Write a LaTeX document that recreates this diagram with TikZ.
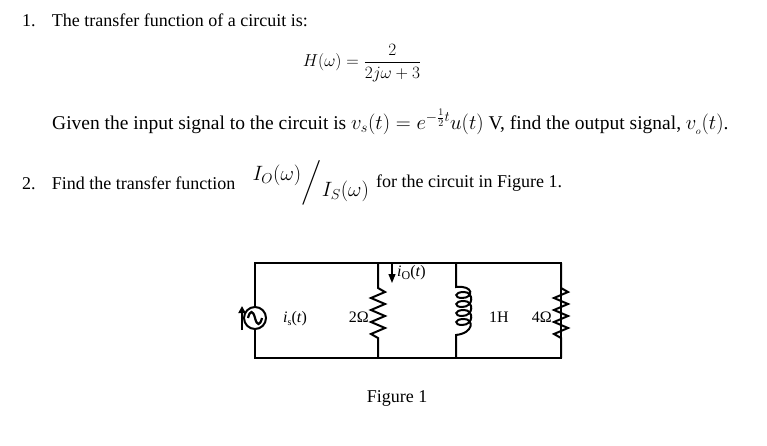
\documentclass[tikz,border=0pt]{standalone}
\usepackage{amsmath}
\usepackage{fontspec}
\setmainfont{Liberation Serif}
\usetikzlibrary{arrows.meta}
\begin{document}
\begin{tikzpicture}[x=1pt,y=-1pt,
  txt/.style={anchor=west,inner sep=0pt,font=\fontsize{18}{20}\selectfont},
  wire/.style={line width=2pt},
  lbl/.style={inner sep=0pt,font=\fontsize{16}{18}\selectfont}]
\useasboundingbox (0,0) rectangle (767,446);
\node[txt] (t1) at (22,20) {1.\hspace{0.9em}The transfer function of a circuit is:};
\node[inner sep=0pt,font=\fontsize{18}{20}\selectfont] (h) at (362,63) {$H(\omega)=\dfrac{2}{2j\omega+3}$};
\node[txt,font=\fontsize{19.5}{22}\selectfont] (t2) at (52,122) {Given the input signal to the circuit is $v_s(t)=e^{-\frac{1}{2}t}u(t)$ V, find the output signal, $v_{_o}(t)$.};
\node[txt] (t3) at (22,183) {2.\hspace{0.9em}Find the transfer function};
\node[inner sep=0pt,font=\fontsize{28}{30}\selectfont] (frac) at (311,183) {$\left.{}^{I_O(\omega)}\middle/{}_{I_S(\omega)}\right.$};
\node[txt] (t4) at (376,183) {for the circuit in Figure 1.};
% circuit
\coordinate (tl) at (255,263); \coordinate (bl) at (255,358);
\coordinate (tr) at (561,263); \coordinate (br) at (561,358);
\coordinate (ta) at (378,263); \coordinate (ba) at (378,358);
\coordinate (tb) at (456,263); \coordinate (bb) at (456,358);
\draw[wire] (tl) -- (tr) -- (br) -- (bl) -- cycle;
\node[circle,draw,line width=2pt,minimum size=22pt,inner sep=0pt,fill=white] (src) at (255,318) {};
\draw[line width=2.2pt] (248,318) .. controls (250,310) and (253,310) .. (255,318) .. controls (257,326) and (260,326) .. (262,318);
\draw[line width=1.8pt,-{Triangle[length=7pt,width=7pt]}] (242,330) -- (242,306);
% 2 ohm
\draw[wire] (ta) -- (378,288) -- (385,292) -- (371,298) -- (385,304) -- (371,310) -- (385,316) -- (371,322) -- (385,328) -- (371,334) -- (378,338) -- (ba);
% 4 ohm
\draw[wire] (tr) -- (561,288) -- (568,292) -- (554,298) -- (568,304) -- (554,310) -- (568,316) -- (554,322) -- (568,328) -- (554,334) -- (561,338) -- (br);
% inductor
\draw[wire] (tb) -- (456,287) .. controls (474,285) and (474,298) .. (462,298)
  .. controls (454,298) and (454,292) .. (464,292) .. controls (474,292) and (474,307) .. (462,307)
  .. controls (454,307) and (454,301) .. (464,301) .. controls (474,301) and (474,316) .. (462,316)
  .. controls (454,316) and (454,310) .. (464,310) .. controls (474,310) and (474,325) .. (462,325)
  .. controls (454,325) and (454,319) .. (464,319) .. controls (474,319) and (474,333) .. (456,335) -- (bb);
% io arrow
\coordinate (ia) at (392,263); \coordinate (ib) at (392,283);
\draw[line width=1.3pt,-{Triangle[length=9pt,width=7pt]}] (ia) -- (ib);
\node[lbl,anchor=west] (io) at (397,273) {\textit{i}\raisebox{-0.3ex}{\fontsize{12}{12}\selectfont O}(\textit{t})};
\node[lbl,anchor=west] (is) at (283,319) {\textit{i}\raisebox{-0.3ex}{\fontsize{10}{10}\selectfont s}(\textit{t})};
\node[lbl,anchor=east] (r2) at (369,317) {2Ω};
\node[lbl,anchor=west] (l1) at (489,317) {1H};
\node[lbl,anchor=east] (r4) at (552,317) {4Ω};
\node[inner sep=0pt,font=\fontsize{18}{20}\selectfont] (fig) at (397,398) {Figure 1};
\end{tikzpicture}
\end{document}
